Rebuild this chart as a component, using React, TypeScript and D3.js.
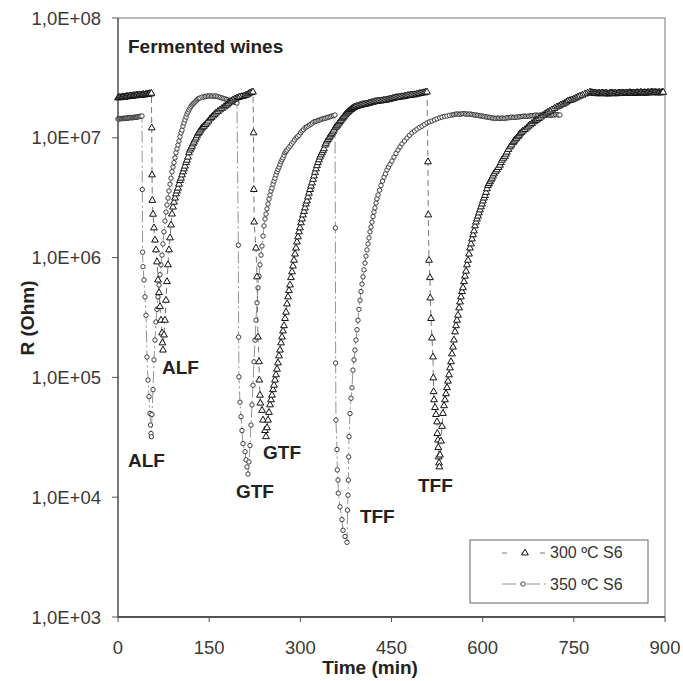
import React from 'react';
import * as d3 from 'd3';

type Pt = [number, number]; // [time (min), R (Ohm)]

// ---- 300 ºC S6 (triangles) ----
const base300a: Pt[] = [
  [0, 2.15e7], [1.5, 2.17e7], [3, 2.18e7], [4.5, 2.16e7], [6, 2.17e7], [7.5, 2.19e7], [9, 2.2e7],
  [10.5, 2.18e7], [12, 2.19e7], [13.5, 2.21e7], [15, 2.22e7], [16.5, 2.2e7], [18, 2.21e7],
  [19.5, 2.23e7], [21, 2.24e7], [22.5, 2.22e7], [24, 2.23e7], [25.5, 2.25e7], [27, 2.25e7],
  [28.5, 2.24e7], [30, 2.26e7], [31.5, 2.27e7], [33, 2.25e7], [34.5, 2.27e7], [36, 2.28e7],
  [37.5, 2.26e7], [39, 2.27e7], [40.5, 2.29e7], [42, 2.3e7], [43.5, 2.28e7], [45, 2.29e7],
  [46.5, 2.31e7], [48, 2.31e7], [49.5, 2.3e7], [51, 2.33e7], [52.5, 2.34e7], [54, 2.32e7], [55, 2.35e7],
];
const alfDrop300: Pt[] = [
  [55.5, 1.21e7], [56, 4.9e6], [56.5, 3.0e6], [57.6, 2.3e6], [59.2, 1.77e6], [60.9, 1.4e6],
  [62.5, 1.16e6], [64.2, 9.2e5], [65.8, 6.5e5], [67.5, 5.1e5], [69.1, 3.9e5], [70.7, 3.0e5],
  [72.4, 2.35e5], [73.2, 1.94e5], [74, 1.69e5],
];
const alfRec300: Pt[] = [
  [75.7, 2.26e5], [77.3, 3.0e5], [79, 4.4e5], [80.6, 6.3e5], [82.3, 8.7e5], [83.9, 1.16e6],
  [85.6, 1.46e6], [87.2, 1.87e6], [88.8, 2.31e6], [90.5, 2.64e6], [92.1, 2.9e6], [93.8, 3.14e6],
  [95.4, 3.4e6], [97.1, 3.6e6], [98.7, 3.8e6], [100.4, 4.1e6], [102, 4.4e6], [103.7, 4.6e6],
  [105.3, 4.9e6], [107, 5.2e6], [108.6, 5.5e6], [110.2, 5.8e6], [111.9, 6.2e6], [113.5, 6.5e6],
  [115.2, 6.9e6], [116.8, 7.5e6], [118.5, 7.9e6], [120.2, 8.2e6], [121.8, 8.5e6], [123.4, 8.9e6],
  [125, 9.2e6], [126.7, 9.6e6], [128.3, 9.96e6], [130, 1.04e7], [131.6, 1.08e7], [133.3, 1.11e7],
  [134.9, 1.14e7], [136.6, 1.18e7], [138.2, 1.21e7], [139.9, 1.23e7], [141.5, 1.25e7], [144, 1.29e7],
  [146.4, 1.33e7], [148.9, 1.38e7], [151.4, 1.44e7], [153.8, 1.48e7], [156.3, 1.52e7], [158.8, 1.57e7],
  [161.2, 1.61e7], [164.5, 1.66e7], [167.8, 1.71e7], [171.1, 1.76e7], [174.4, 1.81e7], [176.9, 1.85e7],
  [179.3, 1.88e7], [181.8, 1.94e7], [184.3, 1.99e7], [186.7, 2.03e7], [189.2, 2.07e7], [192.5, 2.11e7],
  [195.8, 2.15e7], [198.2, 2.17e7], [200.7, 2.19e7], [204, 2.21e7], [207.3, 2.23e7], [209.7, 2.26e7],
  [212.2, 2.28e7], [214.7, 2.33e7], [217.2, 2.37e7], [219.6, 2.39e7], [222.1, 2.41e7],
];
const gtfDrop300: Pt[] = [
  [223, 1.1e7], [223.5, 3.7e6], [224, 1.98e6], [227, 1.2e6], [228.7, 6.9e5], [230.3, 2.17e5],
  [232, 1.35e5], [232.5, 9.5e4], [233.6, 7.1e4], [234.2, 6.1e4], [237, 5.3e4], [238.6, 4.4e4],
  [241.9, 3.6e4], [243.5, 3.2e4],
];
const gtfRec300: Pt[] = [
  [245.2, 3.8e4], [246.8, 4.4e4], [248.4, 5.1e4], [250.1, 5.9e4], [251.7, 6.5e4], [253.4, 7.1e4],
  [255, 7.9e4], [256.7, 8.6e4], [258.3, 9.5e4], [260, 1.05e5], [261.6, 1.17e5], [263.2, 1.32e5],
  [264.9, 1.51e5], [266.5, 1.69e5], [268.2, 1.94e5], [269.8, 2.17e5], [271.5, 2.44e5], [273.1, 2.7e5],
  [274.8, 3.1e5], [276.4, 3.5e5], [278.1, 4.1e5], [279.7, 4.7e5], [281.3, 5.3e5], [283, 5.9e5],
  [284.6, 6.8e5], [286.3, 7.6e5], [287.9, 8.5e5], [289.6, 9.5e5], [291.2, 1.07e6], [292.9, 1.2e6],
  [294.5, 1.35e6], [296.2, 1.49e6], [297.8, 1.64e6], [299.4, 1.77e6], [301.1, 1.95e6], [302.7, 2.1e6],
  [304.4, 2.27e6], [306, 2.43e6], [307.7, 2.6e6], [309.3, 2.8e6], [311, 2.97e6], [312.6, 3.2e6],
  [314.2, 3.45e6], [315.9, 3.7e6], [317.5, 3.95e6], [319.2, 4.2e6], [320.8, 4.5e6], [322.5, 4.8e6],
  [324.1, 5.15e6], [325.8, 5.5e6], [327.4, 5.85e6], [329.1, 6.2e6], [330.7, 6.55e6], [332.4, 6.9e6],
  [334, 7.2e6], [335.6, 7.5e6], [337.3, 7.8e6], [338.9, 8.1e6], [340.6, 8.7e6], [342.2, 9.0e6],
  [343.9, 9.4e6], [345.5, 9.7e6], [347.2, 1.0e7], [348.8, 1.03e7], [350.5, 1.06e7], [352.1, 1.09e7],
  [353.8, 1.12e7], [355.4, 1.16e7], [357, 1.21e7], [358.7, 1.23e7], [360.3, 1.26e7], [362, 1.3e7],
  [363.6, 1.33e7], [365.3, 1.37e7], [366.9, 1.4e7], [368.6, 1.44e7], [370.2, 1.47e7], [371.8, 1.51e7],
  [373.5, 1.55e7], [375.1, 1.58e7], [376.8, 1.61e7], [378.4, 1.64e7], [380, 1.67e7], [381.7, 1.7e7],
  [383.3, 1.72e7], [385, 1.75e7], [386.6, 1.77e7], [388.3, 1.79e7], [389.9, 1.81e7], [392.4, 1.83e7],
  [394.9, 1.84e7], [397.4, 1.86e7], [399.8, 1.87e7], [402.3, 1.89e7], [404.7, 1.9e7], [407.2, 1.91e7],
  [409.7, 1.92e7], [412.2, 1.94e7], [414.6, 1.95e7], [417.1, 1.97e7], [419.6, 1.98e7], [422.1, 2.0e7],
  [424.5, 2.01e7], [427, 2.02e7], [429.5, 2.03e7], [432, 2.03e7], [434.4, 2.04e7], [436.9, 2.05e7],
  [439.3, 2.06e7], [441.8, 2.07e7], [444.3, 2.08e7], [446.8, 2.1e7], [449.2, 2.11e7], [451.7, 2.13e7],
  [454.1, 2.14e7], [456.6, 2.16e7], [459.1, 2.17e7], [461.6, 2.18e7], [464, 2.19e7], [466.5, 2.2e7],
  [468.9, 2.2e7], [471.4, 2.22e7], [473.8, 2.23e7], [476.3, 2.25e7], [478.8, 2.26e7], [481.3, 2.27e7],
  [483.7, 2.28e7], [486.2, 2.28e7], [488.6, 2.29e7], [491.1, 2.31e7], [493.6, 2.32e7], [496.1, 2.34e7],
  [498.5, 2.35e7], [501, 2.37e7], [503.5, 2.38e7], [506, 2.4e7], [508.4, 2.41e7],
];
const tffDrop300: Pt[] = [
  [510, 6.3e6], [510.5, 2.27e6], [511.7, 9.5e5], [513.3, 6.8e5], [513.8, 4.6e5], [515, 3.1e5],
  [516.6, 2.13e5], [518.3, 1.48e5], [518.8, 9.9e4], [519.3, 7.6e4], [520, 6.5e4], [521.6, 5.6e4],
  [523.2, 4.9e4], [524.9, 4.25e4], [525.4, 3.4e4], [526.5, 3.0e4], [527, 2.6e4], [527.5, 2.17e4],
  [528.2, 1.93e4], [528.8, 1.79e4],
];
const tffRec300: Pt[] = [
  [529.8, 2.25e4], [531.4, 2.94e4], [533.1, 3.9e4], [534.7, 5.0e4], [536.4, 5.8e4], [538, 6.5e4],
  [539.7, 7.3e4], [541.3, 8.2e4], [543, 9.3e4], [544.6, 1.05e5], [546.2, 1.2e5], [547.9, 1.35e5],
  [549.5, 1.57e5], [551.2, 1.79e5], [552.8, 2.05e5], [554.5, 2.4e5], [556.1, 2.7e5], [557.8, 3.0e5],
  [559.4, 3.3e5], [561.1, 3.8e5], [562.7, 4.26e5], [564.3, 4.7e5], [566, 5.2e5], [567.6, 5.6e5],
  [569.3, 6.3e5], [570.9, 7.0e5], [572.6, 7.7e5], [574.2, 8.7e5], [575.9, 9.5e5], [577.5, 1.07e6],
  [579.1, 1.2e6], [580.8, 1.3e6], [582.4, 1.43e6], [584.1, 1.55e6], [585.7, 1.67e6], [587.4, 1.84e6],
  [589, 1.98e6], [590.7, 2.1e6], [592.3, 2.22e6], [594, 2.36e6], [595.6, 2.5e6], [597.3, 2.65e6],
  [598.9, 2.8e6], [600.5, 2.97e6], [602.2, 3.14e6], [603.8, 3.3e6], [605.5, 3.5e6], [607.1, 3.75e6],
  [608.8, 4.0e6], [610.4, 4.15e6], [612, 4.3e6], [613.7, 4.45e6], [615.3, 4.6e6], [617, 4.8e6],
  [618.6, 5.0e6], [621.1, 5.2e6], [623.6, 5.4e6], [626, 5.65e6], [628.5, 5.9e6], [630.1, 6.2e6],
  [631.8, 6.5e6], [634.2, 6.75e6], [636.7, 7.0e6], [638.3, 7.3e6], [640, 7.6e6], [642.5, 8.0e6],
  [645, 8.4e6], [647.4, 8.7e6], [649.9, 9.1e6], [651.5, 9.35e6], [653.2, 9.6e6], [655.6, 9.9e6],
  [658.1, 1.02e7], [659.8, 1.05e7], [661.4, 1.08e7], [663.9, 1.11e7], [666.3, 1.14e7], [669.6, 1.17e7],
  [672.9, 1.21e7], [675.4, 1.25e7], [677.9, 1.28e7], [681.2, 1.32e7], [684.5, 1.36e7], [686.9, 1.39e7],
  [689.4, 1.41e7], [692.7, 1.45e7], [696, 1.49e7], [699.3, 1.54e7], [702.6, 1.58e7], [705, 1.61e7],
  [707.5, 1.64e7], [710.8, 1.67e7], [714, 1.71e7], [718.2, 1.76e7], [722.3, 1.81e7], [725.6, 1.84e7],
  [728.9, 1.88e7], [732.2, 1.91e7], [735.5, 1.95e7], [738, 1.99e7], [740.4, 2.03e7], [743.7, 2.05e7],
  [747, 2.07e7], [750.3, 2.11e7], [753.5, 2.15e7], [756.8, 2.19e7], [760.1, 2.23e7], [764.2, 2.27e7],
  [768.4, 2.32e7], [772.5, 2.36e7], [776.6, 2.41e7],
];
const base300b: Pt[] = [
  [778.5, 2.38e7], [780, 2.38e7], [781.5, 2.36e7], [783, 2.35e7], [784.5, 2.37e7], [786, 2.36e7],
  [787.5, 2.34e7], [789, 2.33e7], [790.5, 2.36e7], [792, 2.35e7], [793.5, 2.33e7], [795, 2.34e7],
  [796.5, 2.37e7], [798, 2.36e7], [799.5, 2.34e7], [801, 2.33e7], [802.5, 2.36e7], [804, 2.35e7],
  [805.5, 2.33e7], [807, 2.32e7], [808.5, 2.35e7], [810, 2.34e7], [811.5, 2.37e7], [813, 2.36e7],
  [814.5, 2.34e7], [816, 2.33e7], [817.5, 2.36e7], [819, 2.35e7], [820.5, 2.33e7], [822, 2.34e7],
  [823.5, 2.36e7], [825, 2.37e7], [826.5, 2.34e7], [828, 2.35e7], [829.5, 2.37e7], [831, 2.36e7],
  [832.5, 2.35e7], [834, 2.34e7], [835.5, 2.36e7], [837, 2.37e7], [838.5, 2.35e7], [840, 2.36e7],
  [841.5, 2.38e7], [843, 2.38e7], [844.5, 2.36e7], [846, 2.35e7], [847.5, 2.37e7], [849, 2.37e7],
  [850.5, 2.35e7], [852, 2.36e7], [853.5, 2.38e7], [855, 2.38e7], [856.5, 2.36e7], [858, 2.37e7],
  [859.5, 2.39e7], [861, 2.39e7], [862.5, 2.37e7], [864, 2.36e7], [865.5, 2.38e7], [867, 2.38e7],
  [868.5, 2.36e7], [870, 2.37e7], [871.5, 2.39e7], [873, 2.39e7], [874.5, 2.37e7], [876, 2.38e7],
  [877.5, 2.4e7], [879, 2.4e7], [880.5, 2.38e7], [882, 2.38e7], [883.5, 2.4e7], [885, 2.39e7],
  [886.5, 2.38e7], [888, 2.37e7], [889.5, 2.39e7], [891, 2.39e7], [892.5, 2.37e7], [894, 2.38e7],
  [895.5, 2.4e7], [897, 2.4e7],
];

// ---- 350 ºC S6 (circles) ----
const base350a: Pt[] = [
  [0, 1.44e7], [1.5, 1.43e7], [3, 1.45e7], [4.5, 1.45e7], [6, 1.44e7], [7.5, 1.45e7], [9, 1.46e7],
  [10.5, 1.45e7], [12, 1.45e7], [13.5, 1.46e7], [15, 1.47e7], [16.5, 1.46e7], [18, 1.46e7],
  [19.5, 1.47e7], [21, 1.48e7], [22.5, 1.47e7], [24, 1.47e7], [25.5, 1.48e7], [27, 1.49e7],
  [28.5, 1.48e7], [30, 1.48e7], [31.5, 1.49e7], [33, 1.5e7], [34.5, 1.5e7], [36, 1.51e7],
  [37.5, 1.51e7], [39.5, 1.52e7],
];
const alfDrop350: Pt[] = [
  [40, 3.7e6], [40.5, 1.11e6], [41.1, 8.4e5], [42.8, 6.5e5], [44.4, 4.7e5], [46.1, 3.3e5],
  [47.7, 1.48e5], [49.4, 9.5e4], [51, 6.9e4], [52.6, 5.0e4], [53.5, 4.0e4], [54.3, 3.4e4], [55, 3.2e4],
];
const alfRec350: Pt[] = [
  [55.9, 4.9e4], [57.6, 7.9e4], [59.2, 1.4e5], [60.9, 2.05e5], [62.5, 2.9e5], [64.2, 3.7e5],
  [65.8, 4.7e5], [67.5, 5.9e5], [69.1, 7.2e5], [70.7, 8.7e5], [72.4, 1.05e6], [74, 1.3e6],
  [75.7, 1.64e6], [77.3, 2.02e6], [79, 2.4e6], [80.6, 2.75e6], [82.3, 3.14e6], [83.9, 3.6e6],
  [85.6, 4.1e6], [87.2, 4.6e6], [88.8, 5.2e6], [90.5, 5.7e6], [92.1, 6.2e6], [93.8, 6.8e6],
  [95.4, 7.5e6], [97.1, 8.1e6], [98.7, 8.7e6], [100.4, 9.4e6], [102, 1.02e7], [103.7, 1.1e7],
  [105.3, 1.16e7], [106.9, 1.25e7], [108.6, 1.33e7], [110.2, 1.41e7], [111.9, 1.49e7], [113.5, 1.58e7],
  [115.2, 1.64e7], [116.8, 1.71e7], [118.5, 1.77e7], [120.1, 1.83e7], [121.8, 1.88e7], [123.4, 1.92e7],
  [125, 1.95e7], [126.7, 1.99e7], [128.3, 2.03e7], [130, 2.07e7], [131.6, 2.11e7], [133.2, 2.13e7],
  [134.9, 2.15e7], [138.2, 2.19e7], [141.5, 2.19e7], [144, 2.21e7], [146.4, 2.23e7], [148.9, 2.23e7],
  [151.4, 2.24e7], [153.9, 2.23e7], [156.3, 2.22e7], [158.8, 2.23e7], [161.2, 2.23e7], [163.7, 2.21e7],
  [166.2, 2.19e7], [168.6, 2.17e7], [171.1, 2.15e7], [173.6, 2.13e7], [176, 2.11e7], [178.5, 2.09e7],
  [181, 2.07e7], [183.4, 2.05e7], [185.9, 2.03e7], [188.4, 2.01e7], [190.9, 1.99e7], [193.3, 1.97e7],
  [195.8, 1.95e7],
];
const gtfDrop350: Pt[] = [
  [198, 1.27e6], [198.5, 2.17e5], [199, 1.01e5], [200.7, 6.2e4], [202.4, 4.7e4], [204, 3.6e4],
  [205.7, 2.8e4], [209, 2.4e4], [210.6, 2.05e4], [212.2, 1.79e4], [213.9, 1.56e4],
];
const gtfRec350: Pt[] = [
  [215.5, 1.97e4], [217.2, 2.7e4], [218.8, 4.0e4], [220.5, 5.9e4], [222.1, 8.6e4], [223.8, 1.35e5],
  [225.4, 2.05e5], [227, 3.0e5], [228.7, 4.2e5], [230.3, 5.6e5], [232, 7.0e5], [233.6, 8.7e5],
  [235.3, 1.05e6], [236.9, 1.25e6], [238.6, 1.51e6], [240.2, 1.84e6], [241.9, 2.1e6], [243.5, 2.31e6],
  [245.2, 2.55e6], [246.8, 2.8e6], [248.4, 3.08e6], [250.1, 3.33e6], [251.7, 3.6e6], [253.4, 3.8e6],
  [255, 4.1e6], [256.7, 4.35e6], [258.3, 4.6e6], [260, 4.9e6], [261.6, 5.2e6], [263.3, 5.45e6],
  [264.9, 5.7e6], [266.6, 6.0e6], [268.2, 6.3e6], [269.9, 6.55e6], [271.5, 6.8e6], [273.2, 7.15e6],
  [274.8, 7.5e6], [276.5, 7.7e6], [278.1, 7.9e6], [280.6, 8.2e6], [283, 8.5e6], [285.5, 8.85e6],
  [287.9, 9.2e6], [290.4, 9.6e6], [292.9, 9.96e6], [295.3, 1.02e7], [297.8, 1.05e7], [300.3, 1.1e7],
  [302.7, 1.14e7], [305.2, 1.17e7], [307.7, 1.21e7], [310.1, 1.23e7], [312.6, 1.25e7], [315.1, 1.28e7],
  [317.5, 1.3e7], [320, 1.33e7], [322.5, 1.36e7], [324.9, 1.37e7], [327.4, 1.38e7], [329.9, 1.4e7],
  [332.4, 1.41e7], [334.8, 1.43e7], [337.3, 1.44e7], [339.8, 1.45e7], [342.2, 1.46e7], [344.7, 1.48e7],
  [347.2, 1.49e7], [349.7, 1.5e7], [352.1, 1.52e7], [354.6, 1.53e7], [357, 1.55e7],
];
const tffDrop350: Pt[] = [
  [357.6, 1.77e6], [358.1, 1.32e5], [358.6, 4.4e4], [360.3, 2.5e4], [360.8, 1.69e4], [362, 1.39e4],
  [362.5, 1.08e4], [365.3, 8.3e3], [368.5, 6.5e3], [370.2, 5.3e3], [373.5, 4.7e3], [376.8, 4.2e3],
];
const tffRec350: Pt[] = [
  [377.6, 7.8e3], [378.5, 1.04e4], [379, 1.39e4], [379.5, 2.17e4], [380.1, 3.2e4], [381.7, 5.0e4],
  [383.4, 6.7e4], [385, 8.2e4], [386.6, 1.15e5], [388.3, 1.4e5], [389.9, 1.69e5], [391.6, 2.05e5],
  [393.2, 2.5e5], [394.9, 3.0e5], [396.5, 3.7e5], [398.2, 4.4e5], [399.8, 5.2e5], [401.5, 6.0e5],
  [403.1, 6.9e5], [404.7, 7.9e5], [406.4, 9.0e5], [408, 1.03e6], [409.7, 1.16e6], [411.3, 1.3e6],
  [413, 1.46e6], [414.6, 1.64e6], [416.3, 1.8e6], [417.9, 1.98e6], [419.6, 2.2e6], [421.2, 2.4e6],
  [422.8, 2.6e6], [424.5, 2.86e6], [426.1, 3.1e6], [427.8, 3.33e6], [430.3, 3.65e6], [432.7, 4.0e6],
  [435.2, 4.35e6], [437.7, 4.7e6], [440.1, 5.0e6], [442.6, 5.4e6], [445, 5.7e6], [447.5, 6.0e6],
  [450.8, 6.4e6], [454.1, 6.9e6], [457.4, 7.4e6], [460.7, 7.9e6], [464, 8.4e6], [467.3, 8.9e6],
  [471.4, 9.4e6], [475.5, 9.96e6], [479.6, 1.05e7], [483.7, 1.1e7], [487.9, 1.14e7], [492, 1.18e7],
  [496.1, 1.22e7], [500.2, 1.25e7], [504.3, 1.29e7], [508.4, 1.33e7], [512.5, 1.36e7], [516.6, 1.38e7],
  [520.8, 1.41e7], [524.9, 1.44e7], [529, 1.47e7], [533.1, 1.49e7], [537.2, 1.51e7], [541.3, 1.52e7],
  [545.4, 1.54e7], [549.5, 1.55e7], [552, 1.56e7], [554.5, 1.57e7], [556.9, 1.58e7], [559.4, 1.58e7],
  [561.9, 1.57e7], [564.3, 1.58e7], [566.8, 1.59e7], [569.3, 1.59e7], [571.7, 1.58e7], [574.2, 1.58e7],
  [576.7, 1.57e7], [579.1, 1.58e7], [581.6, 1.57e7], [584.1, 1.56e7], [586.5, 1.55e7], [589, 1.55e7],
  [591.5, 1.54e7], [594, 1.53e7], [596.4, 1.52e7], [598.9, 1.52e7], [601.4, 1.51e7], [603.8, 1.5e7],
  [606.3, 1.49e7], [608.8, 1.49e7], [611.2, 1.48e7], [613.7, 1.47e7], [616.2, 1.46e7], [618.6, 1.46e7],
  [621.1, 1.45e7], [623.6, 1.46e7], [626, 1.46e7], [628.5, 1.45e7], [631, 1.46e7], [633.4, 1.46e7],
  [635.9, 1.45e7], [638.4, 1.46e7], [640.8, 1.47e7], [643.3, 1.47e7], [645.8, 1.48e7], [648.2, 1.49e7],
  [650.7, 1.48e7], [653.2, 1.48e7], [655.6, 1.49e7], [658.1, 1.49e7], [660.6, 1.5e7], [663, 1.5e7],
  [665.5, 1.51e7], [668, 1.52e7], [670.4, 1.51e7], [672.9, 1.51e7], [675.4, 1.52e7], [677.9, 1.52e7],
  [680.3, 1.53e7], [682.8, 1.53e7], [685.3, 1.54e7], [687.7, 1.55e7], [690.2, 1.54e7], [692.7, 1.54e7],
  [695.1, 1.55e7], [697.6, 1.55e7], [700.1, 1.56e7], [702.6, 1.56e7], [705, 1.55e7], [707.5, 1.55e7],
  [710, 1.54e7], [712.4, 1.54e7], [714.9, 1.55e7], [717.3, 1.55e7], [719.8, 1.56e7], [722.3, 1.56e7],
  [724.7, 1.55e7], [727.2, 1.55e7],
];

const series300: Pt[] = [
  ...base300a, ...alfDrop300, ...alfRec300, ...gtfDrop300, ...gtfRec300,
  ...tffDrop300, ...tffRec300, ...base300b,
];
const series350: Pt[] = [
  ...base350a, ...alfDrop350, ...alfRec350, ...gtfDrop350, ...gtfRec350, ...tffDrop350, ...tffRec350,
];

const xTicks = [0, 150, 300, 450, 600, 750, 900];
const yTicks = [1e3, 1e4, 1e5, 1e6, 1e7, 1e8];
const yTickLabels = ['1,0E+03', '1,0E+04', '1,0E+05', '1,0E+06', '1,0E+07', '1,0E+08'];
const legendNames = ['300 ºC S6', '350 ºC S6'];

// wine labels next to each minimum (time, resistance of the text baseline-left)
const peakLabels: { text: string; t: number; r: number }[] = [
  { text: 'ALF', t: 72.4, r: 1.07e5 },
  { text: 'ALF', t: 16.5, r: 1.79e4 },
  { text: 'GTF', t: 194, r: 9.8e3 },
  { text: 'GTF', t: 238.6, r: 2.08e4 },
  { text: 'TFF', t: 398, r: 6.1e3 },
  { text: 'TFF', t: 493.6, r: 1.1e4 },
];

export default function App() {
  const margin = { top: 18, right: 18, bottom: 64, left: 118 };
  const W = 683, H = 681;
  const x = d3.scaleLinear().domain([0, 900]).range([margin.left, W - margin.right]);
  const y = d3.scaleLog().domain([1e3, 1e8]).range([H - margin.bottom, margin.top]);
  const line = d3.line<Pt>().x(d => x(d[0])).y(d => y(d[1]));
  const tri = d3.symbol().type(d3.symbolTriangle).size(20)() as string;
  const font = "'Liberation Sans', Arial, sans-serif";
  const x0 = x(0), x1 = x(900), yB = y(1e3), yT = y(1e8);

  return (
    <svg width={W} height={H} fontFamily={font}
      style={{ position: 'absolute', left: 0, top: 0, display: 'block' }}>
      <rect width={W} height={H} fill="#fff" />

      {/* frame */}
      <rect x={x0} y={yT} width={x1 - x0} height={yB - yT} fill="none" stroke="#777" strokeWidth={1} />
      <line x1={x0} x2={x1} y1={yB} y2={yB} stroke="#333" strokeWidth={1.3} />
      <line x1={x0} x2={x0} y1={yT} y2={yB} stroke="#555" strokeWidth={1.3} />

      {/* y axis */}
      {yTicks.map((v, i) => (
        <g key={'y' + v}>
          <line x1={x0 - 6} x2={x0} y1={y(v)} y2={y(v)} stroke="#555" />
          <text x={101} y={y(v) + 6.5} textAnchor="end" fontSize={18.5} fill="#3a3a3a">{yTickLabels[i]}</text>
        </g>
      ))}
      {/* x axis */}
      {xTicks.map(v => (
        <g key={'x' + v}>
          <line x1={x(v)} x2={x(v)} y1={yB} y2={yB + 5} stroke="#555" />
          <text x={x(v)} y={654} textAnchor="middle" fontSize={18.5} fill="#3a3a3a">{v}</text>
        </g>
      ))}

      <text x={370} y={674} textAnchor="middle" fontSize={19} fontWeight="bold" fill="#222">Time (min)</text>
      <text transform="translate(34,318) rotate(-90)" textAnchor="middle" fontSize={19} fontWeight="bold" fill="#222">R (Ohm)</text>
      <text x={128} y={53} fontSize={19} fontWeight="bold" fill="#222">Fermented wines</text>

      {/* 350 ºC series */}
      <path d={line(series350) || ''} fill="none" stroke="#777" strokeWidth={0.8} strokeDasharray="12,3,2,3" />
      {series350.map((d, i) => (
        <circle key={'c' + i} cx={x(d[0])} cy={y(d[1])} r={2.2} fill="#fff" stroke="#2a2a2a" strokeWidth={0.9} />
      ))}

      {/* 300 ºC series */}
      <path d={line(series300) || ''} fill="none" stroke="#555" strokeWidth={0.8} strokeDasharray="6,4" />
      {series300.map((d, i) => (
        <path key={'t' + i} d={tri} transform={`translate(${x(d[0])},${y(d[1])})`}
          fill="#fff" stroke="#111" strokeWidth={1} />
      ))}

      {peakLabels.map((p, i) => (
        <text key={'p' + i} x={x(p.t)} y={y(p.r)} fontSize={19} fontWeight="bold" fill="#222">{p.text}</text>
      ))}

      {/* legend */}
      <g>
        <rect x={470} y={540} width={178} height={63} fill="#fff" stroke="#666" strokeWidth={1} />
        <line x1={502} x2={548} y1={553} y2={553} stroke="#555" strokeWidth={0.8} strokeDasharray="5,14" />
        <path d={tri} transform="translate(525,553)" fill="#fff" stroke="#111" strokeWidth={1} />
        <text x={550} y={558} fontSize={16} fill="#333">{legendNames[0]}</text>
        <line x1={502} x2={548} y1={584} y2={584} stroke="#777" strokeWidth={0.8} strokeDasharray="14,4,2,4" />
        <circle cx={523} cy={584} r={2.2} fill="#fff" stroke="#2a2a2a" strokeWidth={0.9} />
        <text x={550} y={590} fontSize={16} fill="#333">{legendNames[1]}</text>
      </g>
    </svg>
  );
}
